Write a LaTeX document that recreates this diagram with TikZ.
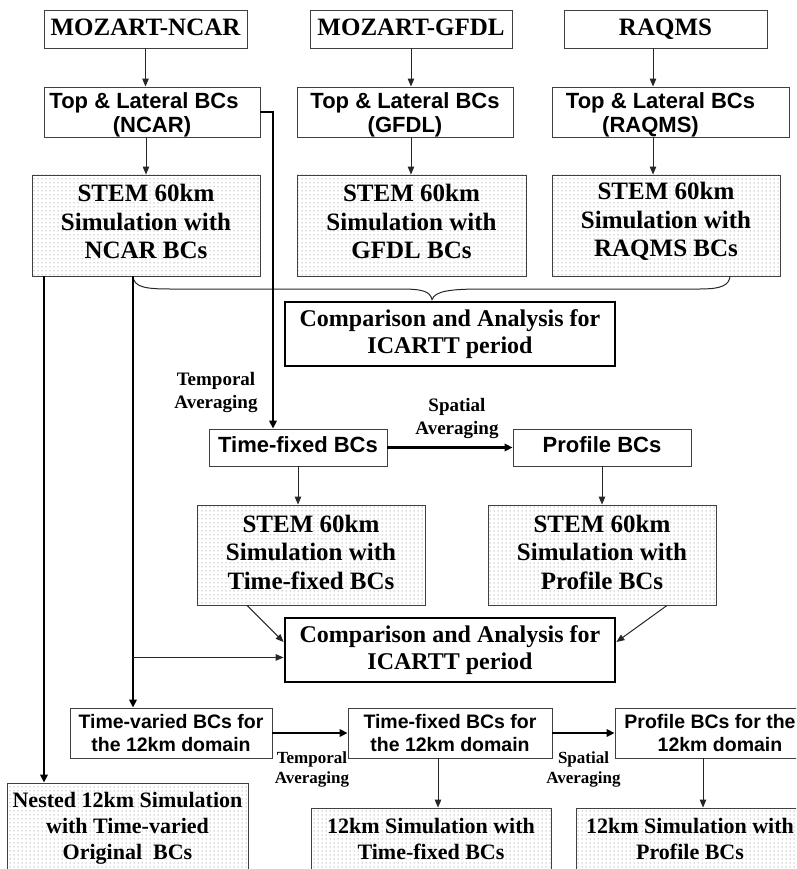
\documentclass[tikz,border=0pt]{standalone}
\usepackage{fontspec}
\setmainfont{Liberation Serif}
\newfontfamily\sansfam{Liberation Sans}
\usetikzlibrary{arrows.meta,patterns,calc}
\pgfdeclarepatternformonly{mydots}{\pgfqpoint{-1pt}{-1pt}}{\pgfqpoint{5pt}{5pt}}{\pgfqpoint{4pt}{4pt}}{\pgfpathcircle{\pgfqpoint{2pt}{2pt}}{0.5pt}\pgfusepath{fill}}
\tikzset{
  box/.style={draw=black!75, line width=0.9pt, inner sep=0pt, fill=white},
  dotbox/.style={draw=black!75, line width=0.9pt, inner sep=0pt, pattern=mydots, pattern color=black!60},
  cmpbox/.style={draw=black, line width=2.8pt, inner sep=0pt, fill=white},
  tx/.style={align=center, inner sep=0pt},
  serA/.style={tx, font=\fontsize{25}{28}\selectfont\bfseries, text height=17pt, text depth=5pt},
  serB/.style={tx, font=\fontsize{25}{28.5}\selectfont\bfseries},
  serC/.style={tx, font=\fontsize{24}{26.5}\selectfont\bfseries},
  serD/.style={tx, font=\fontsize{22}{26}\selectfont\bfseries},
  sanA/.style={tx, font=\sansfam\bfseries\fontsize{22}{24}\selectfont},
  sanS/.style={tx, font=\sansfam\bfseries\fontsize{22}{24}\selectfont, text height=16pt, text depth=5pt},
  sanB/.style={tx, font=\sansfam\bfseries\fontsize{19.5}{23}\selectfont},
  lblA/.style={tx, font=\fontsize{19}{23}\selectfont\bfseries},
  lblB/.style={tx, font=\fontsize{17}{20}\selectfont\bfseries},
  arr/.style={draw=black!85, line width=1pt, -{Triangle[length=8pt,width=6.5pt]}},
  arrb/.style={draw=black, line width=2.9pt, -{Triangle[length=8pt,width=7.5pt]}},
  bracel/.style={draw=black!85, line width=1pt}
}
\begin{document}
\begin{tikzpicture}[x=1pt,y=-1pt]
\useasboundingbox (0,0) rectangle (796,869);
\clip (0,0) rectangle (796,869);
% top row
\node[box, minimum width=203pt, minimum height=38pt, label={[serA, yshift=-1pt]center:MOZART-NCAR}] (mn) at (145.5,29) {};
\node[box, minimum width=202pt, minimum height=38pt, label={[serA, yshift=-1pt]center:MOZART-GFDL}] (mg) at (411,29) {};
\node[box, minimum width=203pt, minimum height=38pt, label={[serA, yshift=-1pt]center:RAQMS}] (mr) at (665.5,29) {};
% BC boxes
\node[box, minimum width=216pt, minimum height=50pt, label={[sanA, yshift=-2.5pt]center:{Top \& Lateral BCs\hspace*{16pt}\\(NCAR)}}] (tn) at (152,112) {};
\node[box, minimum width=216pt, minimum height=50pt, label={[sanA, yshift=-2.5pt]center:{Top \& Lateral BCs\\(GFDL)}}] (tg) at (405,112) {};
\node[box, minimum width=237pt, minimum height=50pt, label={[sanA, yshift=-2.5pt]center:{Top \& Lateral BCs\hspace*{20pt}\\(RAQMS)\hspace*{40pt}}}] (tr) at (670.5,112) {};
% STEM 60km
\node[dotbox, minimum width=228pt, minimum height=101pt, label={[serB, yshift=4pt]center:{STEM 60km\\Simulation with\\NCAR BCs}}] (sn) at (146,225.5) {};
\node[dotbox, minimum width=229pt, minimum height=101pt, label={[serB, yshift=4pt]center:{STEM 60km\\Simulation with\\GFDL BCs}}] (sg) at (411.5,225.5) {};
\node[dotbox, minimum width=228pt, minimum height=101pt, label={[serB, yshift=4pt]center:{STEM 60km\\Simulation with\\RAQMS BCs}}] (sr) at (666,225.5) {};
% comparison 1
\node[cmpbox, minimum width=330pt, minimum height=64pt, label={[serC]center:{Comparison and Analysis for\\ICARTT period}}] (c1) at (450,334) {};
% time-fixed / profile
\node[box, minimum width=178pt, minimum height=37pt, label={[sanS, yshift=0.5pt]center:Time-fixed BCs}] (tf) at (298,447.5) {};
\node[box, minimum width=178pt, minimum height=37pt, label={[sanS, yshift=0.5pt]center:Profile BCs}] (pf) at (602,447.5) {};
\node[dotbox, minimum width=228pt, minimum height=100pt, label={[serB, yshift=3pt]center:{STEM 60km\\Simulation with\\Time-fixed BCs}}] (stf) at (311,555) {};
\node[dotbox, minimum width=228pt, minimum height=100pt, label={[serB, yshift=3pt]center:{STEM 60km\\Simulation with\\Profile BCs}}] (spf) at (602,555) {};
\node[cmpbox, minimum width=330pt, minimum height=64pt, label={[serC]center:{Comparison and Analysis for\\ICARTT period}}] (c2) at (450,650) {};
% 12km BCs
\node[box, minimum width=202pt, minimum height=50pt, label={[sanB]center:{Time-varied BCs for\\the 12km domain}}] (tv12) at (171,733) {};
\node[box, minimum width=204pt, minimum height=50pt, label={[sanB]center:{Time-fixed BCs for\\the 12km domain}}] (tf12) at (450,733) {};
\node[box, minimum width=210pt, minimum height=50pt, label={[sanB, xshift=-10pt]center:{Profile BCs for the\\\hspace*{20pt}12km domain}}] (pf12) at (720,733) {};
% 12km simulations
\node[dotbox, minimum width=241pt, minimum height=90pt, label={[serD]center:{Nested 12km Simulation\\with Time-varied\\Original\ \ BCs}}] (nest) at (127.5,828) {};
\node[dotbox, minimum width=240pt, minimum height=64pt, label={[serD, yshift=1.5pt]center:{12km Simulation with\\Time-fixed BCs}}] (s12tf) at (431,840) {};
\node[dotbox, minimum width=234pt, minimum height=64pt, label={[serD, yshift=1.5pt, xshift=-3pt]center:{12km Simulation with\\Profile BCs}}] (s12pf) at (693,840) {};
% labels
\node[lblA] (ta1) at (216,392.5) {Temporal\\Averaging};
\node[lblA] (sa1) at (457,418.5) {Spatial\\Averaging};
\node[lblB] (ta2) at (312,769) {Temporal\\Averaging};
\node[lblB] (sa2) at (583.5,769) {Spatial\\Averaging};
% coordinates
\coordinate (rx) at (653,0);
\coordinate (bl) at ([xshift=-13pt]sn.south);
\coordinate (br) at ([xshift=64pt]sr.south);
\coordinate (btx) at (432,0);
\coordinate (bt) at ($(btx |- c1.north)+(0,-1)$);
\coordinate (j) at ($(bl)+(0,381)$);
% connectors top
\draw[arr] (mn.south) -- (mn.south |- tn.north);
\draw[arr] (sn.north |- tn.south) -- (sn.north);
\draw[arr] (mg.south) -- (mg.south |- tg.north);
\draw[arr] (mg.south |- tg.south) -- (mg.south |- sg.north);
\draw[arr] (rx |- mr.south) -- (rx |- tr.north);
\draw[arr] (rx |- tr.south) -- (rx |- sr.north);
% brace
\draw[bracel] (bl) .. controls (134,287) and (145,289) .. (170,289) -- (400,289)
  .. controls (422,289) and (430,291) .. (bt)
  .. controls (435,291) and (450,289) .. (483,289) -- (700,289)
  .. controls (722,289) and (729,285) .. (br);
% thick paths
\draw[arrb] (tn.east) -| ([xshift=-25pt]tf.north);
\draw[arrb] ([xshift=-102pt]sn.south) -- ([xshift=-102pt]sn.south |- nest.north);
\draw[arrb] (bl) -- (bl |- tv12.north);
\draw[arr] (j) -- (j -| c2.west);
\draw[arr] ([xshift=-64pt]stf.south) -- ([yshift=8pt]c2.west);
\draw[arr] ([xshift=65pt]spf.south) -- ([yshift=8pt]c2.east);
\draw[arr] (tf.south) -- (tf.south |- stf.north);
\draw[arr] (pf.south) -- (pf.south |- spf.north);
\draw[arrb] (tf.east) -- (pf.west);
\draw[arrb] (tv12.east) -- (tf12.west);
\draw[arrb] (tf12.east) -- (pf12.west);
\draw[arr] ([xshift=-12pt]tf12.south) -- ([xshift=-12pt]tf12.south |- s12tf.north);
\draw[arr] ([xshift=-17pt]pf12.south) -- ([xshift=-17pt]pf12.south |- s12pf.north);
\end{tikzpicture}
\end{document}
